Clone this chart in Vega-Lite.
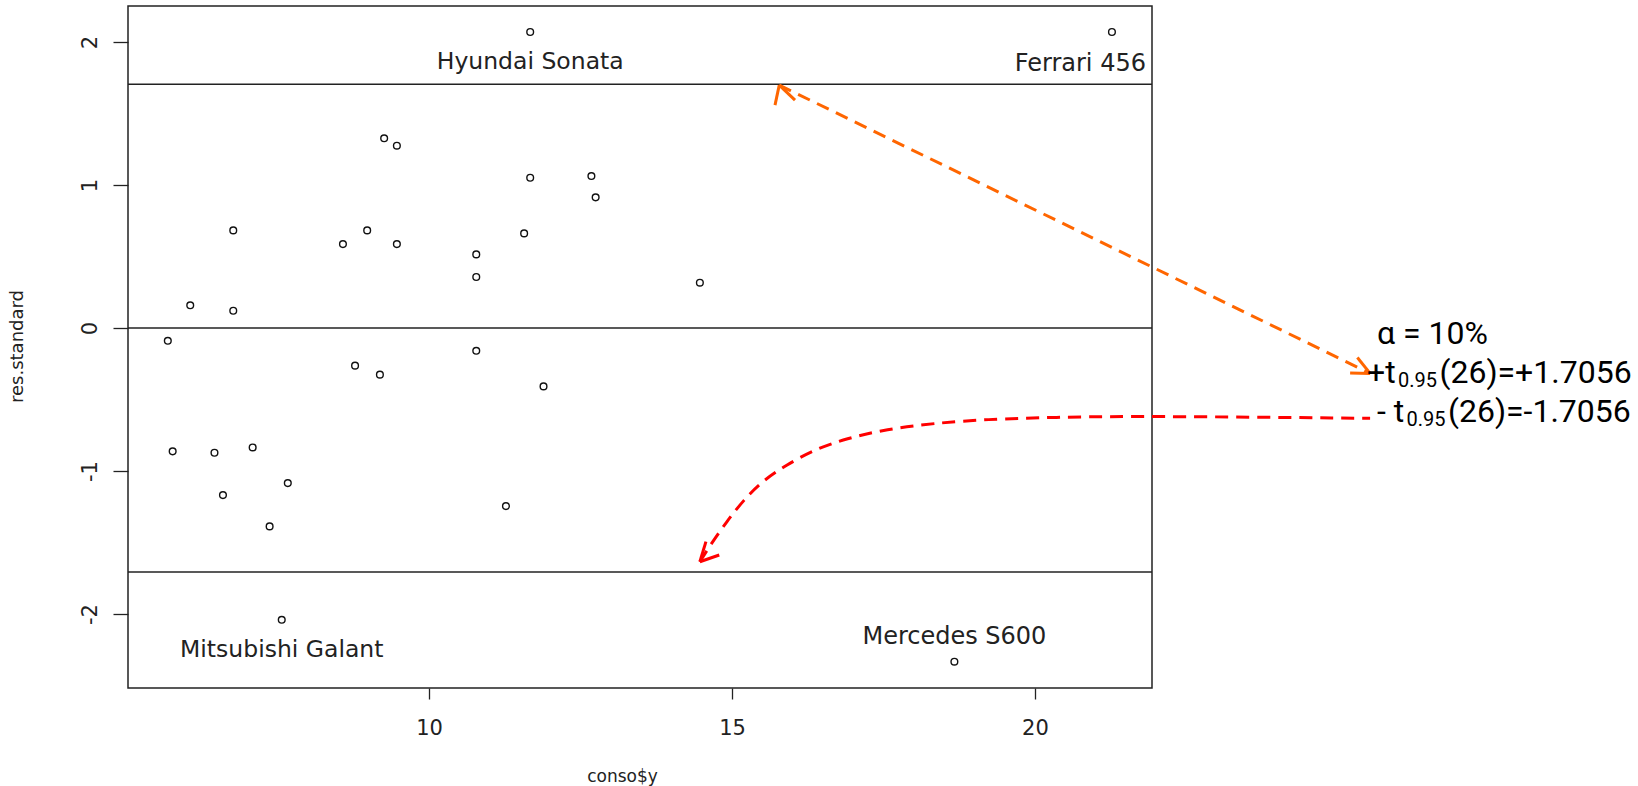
{
  "$schema": "https://vega.github.io/schema/vega-lite/v6.json",
  "width": 1024,
  "height": 682,
  "autosize": {"type": "none"},
  "padding": {"left": 128, "top": 6, "right": 486, "bottom": 98},
  "background": "white",
  "config": {
    "view": {"stroke": "#222", "strokeWidth": 1.5},
    "axis": {"grid": false, "domain": false}
  },
  "datasets": {
    "pts": [
      {"name": "Hyundai Sonata", "x": 11.67, "y": 2.07},
      {"name": "Ferrari 456", "x": 21.27, "y": 2.07},
      {"name": "", "x": 9.26, "y": 1.327},
      {"name": "", "x": 9.47, "y": 1.275},
      {"name": "", "x": 11.67, "y": 1.051},
      {"name": "", "x": 12.68, "y": 1.063},
      {"name": "", "x": 12.75, "y": 0.914},
      {"name": "", "x": 6.77, "y": 0.683},
      {"name": "", "x": 8.98, "y": 0.683},
      {"name": "", "x": 8.58, "y": 0.587},
      {"name": "", "x": 9.47, "y": 0.587},
      {"name": "", "x": 11.57, "y": 0.662},
      {"name": "", "x": 10.78, "y": 0.515},
      {"name": "", "x": 10.78, "y": 0.357},
      {"name": "", "x": 14.47, "y": 0.317},
      {"name": "", "x": 6.06, "y": 0.159},
      {"name": "", "x": 6.77, "y": 0.121},
      {"name": "", "x": 5.69, "y": -0.089},
      {"name": "", "x": 10.78, "y": -0.159},
      {"name": "", "x": 8.78, "y": -0.263},
      {"name": "", "x": 9.19, "y": -0.326},
      {"name": "", "x": 11.89, "y": -0.408},
      {"name": "", "x": 5.77, "y": -0.862},
      {"name": "", "x": 6.46, "y": -0.872},
      {"name": "", "x": 7.09, "y": -0.835},
      {"name": "", "x": 6.6, "y": -1.168},
      {"name": "", "x": 7.67, "y": -1.084},
      {"name": "", "x": 7.37, "y": -1.387},
      {"name": "", "x": 11.27, "y": -1.245},
      {"name": "Mitsubishi Galant", "x": 7.57, "y": -2.04},
      {"name": "Mercedes S600", "x": 18.67, "y": -2.333}
    ],
    "hlines": [{"y": 0}, {"y": 1.7056}, {"y": -1.7056}],
    "orangeLine": [{"x": 15.78, "y": 1.699}, {"x": 25.53, "y": -0.317}],
    "orangeHeads": [
      {"x": 15.78, "y": 1.699, "x2": 15.71, "y2": 1.559},
      {"x": 15.78, "y": 1.699, "x2": 16.04, "y2": 1.594},
      {"x": 25.53, "y": -0.317, "x2": 25.32, "y2": -0.206},
      {"x": 25.53, "y": -0.317, "x2": 25.2, "y2": -0.315}
    ],
    "redCurve": [
      {"x": 25.53, "y": -0.631},
      {"x": 21.73, "y": -0.615},
      {"x": 20.3, "y": -0.624},
      {"x": 19.2, "y": -0.638},
      {"x": 18.32, "y": -0.666},
      {"x": 17.55, "y": -0.708},
      {"x": 16.89, "y": -0.771},
      {"x": 16.34, "y": -0.853},
      {"x": 15.9, "y": -0.958},
      {"x": 15.52, "y": -1.063},
      {"x": 15.19, "y": -1.203},
      {"x": 14.91, "y": -1.355},
      {"x": 14.66, "y": -1.506},
      {"x": 14.47, "y": -1.634}
    ],
    "redHeads": [
      {"x": 14.47, "y": -1.634, "x2": 14.79, "y2": -1.587},
      {"x": 14.47, "y": -1.634, "x2": 14.57, "y2": -1.493}
    ],
    "annotMain": [
      {"t": "α = 10%", "x": 25.643, "y": -0.1119},
      {"t": "+t", "x": 25.48, "y": -0.3846},
      {"t": "(26)=+1.7056", "x": 26.675, "y": -0.3846},
      {"t": "- t", "x": 25.643, "y": -0.6573},
      {"t": "(26)=-1.7056", "x": 26.815, "y": -0.6573}
    ],
    "annotSub": [
      {"t": "0.95", "x": 25.99, "y": -0.4126},
      {"t": "0.95", "x": 26.13, "y": -0.6853}
    ]
  },
  "layer": [
    {
      "data": {"name": "hlines"},
      "mark": {"type": "rule", "color": "#222", "strokeWidth": 1.5},
      "encoding": {"y": {"field": "y", "type": "quantitative"}}
    },
    {
      "data": {"name": "pts"},
      "mark": {"type": "point", "shape": "circle", "filled": false, "size": 45, "strokeWidth": 1.4, "color": "#111", "opacity": 1},
      "encoding": {
        "x": {
          "field": "x", "type": "quantitative",
          "scale": {"domain": [5.033, 21.931], "nice": false, "zero": false},
          "axis": {
            "values": [10, 15, 20], "tickSize": 11, "tickColor": "#222", "tickWidth": 1.3,
            "labelFont": "DejaVu Sans", "labelFontSize": 21, "labelColor": "#222",
            "labelPadding": 35, "labelBaseline": "alphabetic", "labelFlush": false, "labelOverlap": false,
            "labelExpr": "'' + datum.value",
            "title": "conso$y", "titleFont": "DejaVu Sans", "titleFontSize": 17, "titleFontWeight": "normal",
            "titleColor": "#222", "titleX": 494, "titleY": 93, "titleBaseline": "alphabetic", "titleAlign": "center"
          }
        },
        "y": {
          "field": "y", "type": "quantitative",
          "scale": {"domain": [-2.517, 2.252], "nice": false, "zero": false},
          "axis": {
            "values": [-2, -1, 0, 1, 2], "tickSize": 15, "tickColor": "#222", "tickWidth": 1.3,
            "labelFont": "DejaVu Sans", "labelFontSize": 21, "labelColor": "#222",
            "labelAngle": 270, "labelAlign": "center", "labelBaseline": "alphabetic", "labelPadding": 17,
            "labelFlush": false, "labelOverlap": false, "labelExpr": "'' + datum.value",
            "title": "res.standard", "titleFont": "DejaVu Sans", "titleFontSize": 18, "titleFontWeight": "normal",
            "titleColor": "#222", "titleAngle": 270, "titleX": -106, "titleY": 340, "titleBaseline": "alphabetic", "titleAlign": "center"
          }
        }
      }
    },
    {
      "data": {"name": "pts"},
      "transform": [{"filter": "datum.name == 'Hyundai Sonata' || datum.name == 'Mitsubishi Galant'"}],
      "mark": {"type": "text", "font": "DejaVu Sans", "fontSize": 23.5, "color": "#222", "align": "center", "baseline": "alphabetic", "dy": 37},
      "encoding": {"x": {"field": "x", "type": "quantitative"}, "y": {"field": "y", "type": "quantitative"}, "text": {"field": "name"}}
    },
    {
      "data": {"name": "pts"},
      "transform": [{"filter": "datum.name == 'Ferrari 456'"}],
      "mark": {"type": "text", "font": "DejaVu Sans", "fontSize": 24, "color": "#222", "align": "right", "baseline": "alphabetic", "dy": 39, "dx": 34},
      "encoding": {"x": {"field": "x", "type": "quantitative"}, "y": {"field": "y", "type": "quantitative"}, "text": {"field": "name"}}
    },
    {
      "data": {"name": "pts"},
      "transform": [{"filter": "datum.name == 'Mercedes S600'"}],
      "mark": {"type": "text", "font": "DejaVu Sans", "fontSize": 24, "color": "#222", "align": "center", "baseline": "alphabetic", "dy": -18},
      "encoding": {"x": {"field": "x", "type": "quantitative"}, "y": {"field": "y", "type": "quantitative"}, "text": {"field": "name"}}
    },
    {
      "data": {"name": "orangeLine"},
      "mark": {"type": "line", "color": "#FF6600", "strokeWidth": 3, "strokeDash": [13, 8]},
      "encoding": {"x": {"field": "x", "type": "quantitative"}, "y": {"field": "y", "type": "quantitative"}}
    },
    {
      "data": {"name": "orangeHeads"},
      "mark": {"type": "rule", "color": "#FF6600", "strokeWidth": 3},
      "encoding": {"x": {"field": "x", "type": "quantitative"}, "y": {"field": "y", "type": "quantitative"}, "x2": {"field": "x2"}, "y2": {"field": "y2"}}
    },
    {
      "data": {"name": "redCurve"},
      "mark": {"type": "line", "color": "#FF0000", "strokeWidth": 3, "strokeDash": [13, 8], "interpolate": "basis"},
      "encoding": {"x": {"field": "x", "type": "quantitative"}, "y": {"field": "y", "type": "quantitative"}}
    },
    {
      "data": {"name": "redHeads"},
      "mark": {"type": "rule", "color": "#FF0000", "strokeWidth": 3},
      "encoding": {"x": {"field": "x", "type": "quantitative"}, "y": {"field": "y", "type": "quantitative"}, "x2": {"field": "x2"}, "y2": {"field": "y2"}}
    },
    {
      "data": {"name": "annotMain"},
      "mark": {"type": "text", "font": "Roboto", "fontSize": 32, "color": "#000", "align": "left", "baseline": "alphabetic"},
      "encoding": {"x": {"field": "x", "type": "quantitative"}, "y": {"field": "y", "type": "quantitative"}, "text": {"field": "t"}}
    },
    {
      "data": {"name": "annotSub"},
      "mark": {"type": "text", "font": "Roboto", "fontSize": 20, "color": "#000", "align": "left", "baseline": "alphabetic"},
      "encoding": {"x": {"field": "x", "type": "quantitative"}, "y": {"field": "y", "type": "quantitative"}, "text": {"field": "t"}}
    }
  ]
}
